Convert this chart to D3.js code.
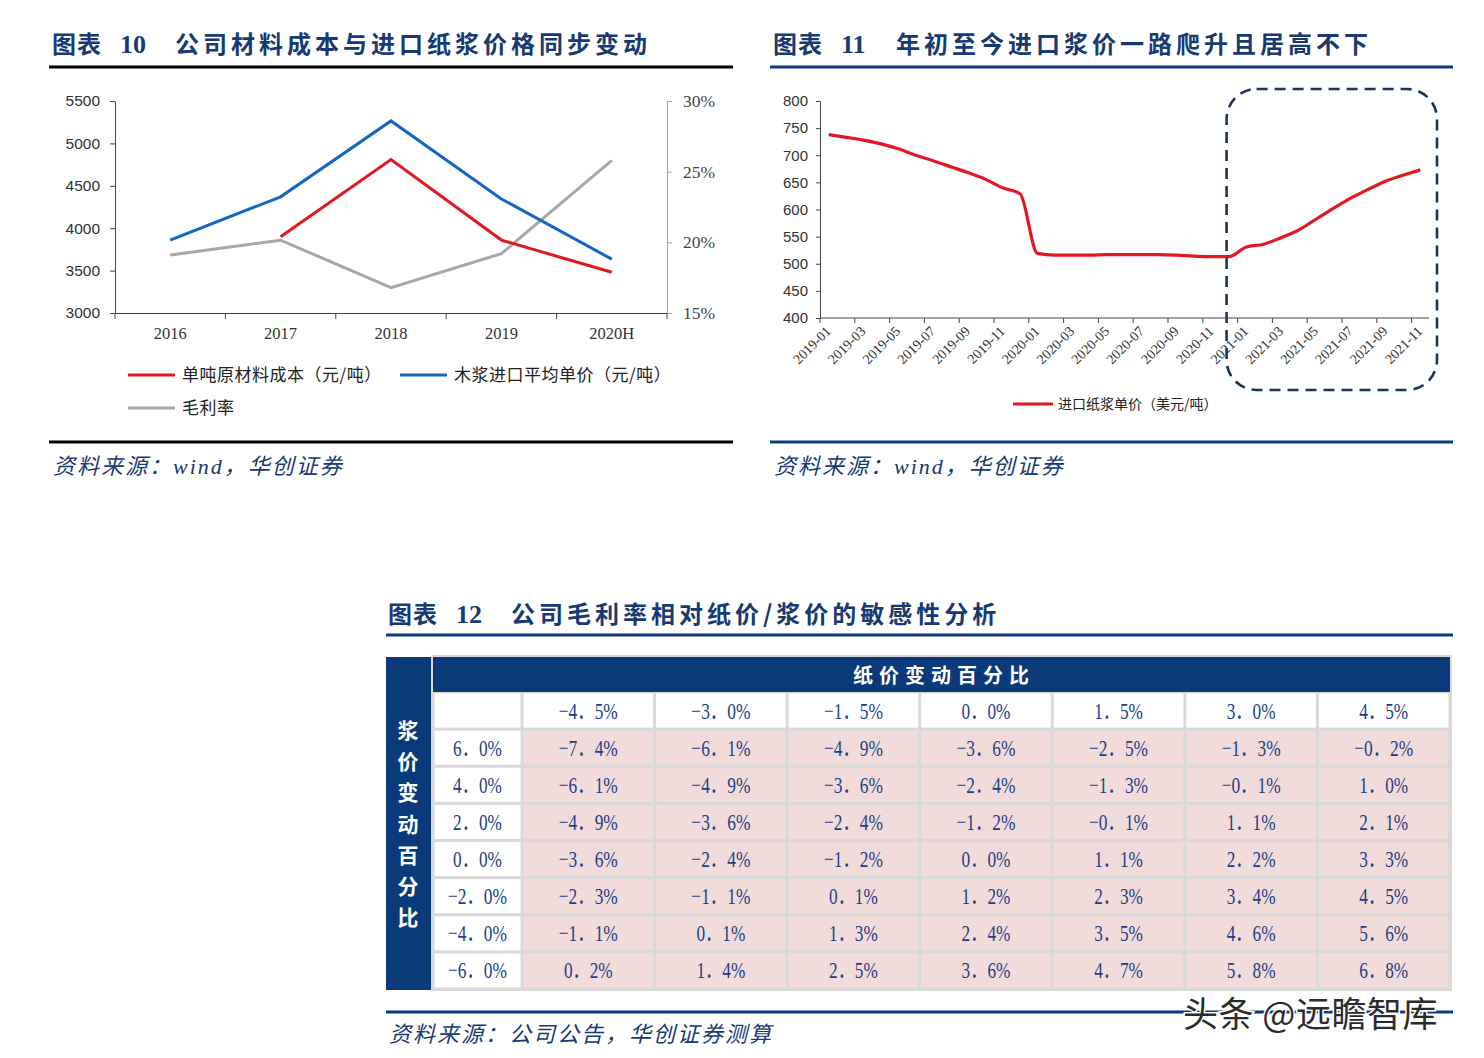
<!DOCTYPE html>
<html>
<head>
<meta charset="utf-8">
<script src="https://cdn.jsdelivr.net/npm/d3@7"></script>
<style>
  body { margin: 0; background: #fff; }
  svg { display: block; }
  .cjk { font-family: "Noto Sans CJK SC", sans-serif; }
  .num { font-family: "Liberation Sans", sans-serif; }
  .narrow { font-family: "Liberation Sans Narrow", "Liberation Sans", sans-serif; }
  .serif { font-family: "Liberation Serif", "Noto Sans CJK SC", serif; }
</style>
</head>
<body>
<div id="page"></div>
<script>
// ---- chart 10 data
const years = ["2016", "2017", "2018", "2019", "2020H"];
const rawCost = [null, 3900, 4810, 3860, 3480];      // 单吨原材料成本
const pulpImport = [3860, 4370, 5265, 4345, 3635];   // 木浆进口平均单价
const grossMargin = [0.191, 0.2015, 0.168, 0.192, 0.258]; // 毛利率

// ---- chart 11 data
const months = [
  "2019-01", "2019-02", "2019-03", "2019-04", "2019-05", "2019-06",
  "2019-07", "2019-08", "2019-09", "2019-10", "2019-11", "2019-12",
  "2020-01", "2020-02", "2020-03", "2020-04", "2020-05", "2020-06",
  "2020-07", "2020-08", "2020-09", "2020-10", "2020-11", "2020-12",
  "2021-01", "2021-02", "2021-03", "2021-04", "2021-05", "2021-06",
  "2021-07", "2021-08", "2021-09", "2021-10", "2021-11"
];
const pulpUsd = [
  738, 733, 728, 721, 712, 700, 690, 679, 668, 656, 640, 629,
  519, 516, 516, 516, 517, 517, 517, 517, 516, 514, 513, 513,
  531, 536, 548, 562, 582, 602, 621, 637, 652, 663, 673
];

// ---- chart 12 data
const paperChg = ["-4.5%", "-3.0%", "-1.5%", "0.0%", "1.5%", "3.0%", "4.5%"];
const pulpChg = ["6.0%", "4.0%", "2.0%", "0.0%", "-2.0%", "-4.0%", "-6.0%"];
const marginGrid = [
  [-7.4, -6.1, -4.9, -3.6, -2.5, -1.3, -0.2],
  [-6.1, -4.9, -3.6, -2.4, -1.3, -0.1, 1.0],
  [-4.9, -3.6, -2.4, -1.2, -0.1, 1.1, 2.1],
  [-3.6, -2.4, -1.2, 0.0, 1.1, 2.2, 3.3],
  [-2.3, -1.1, 0.1, 1.2, 2.3, 3.4, 4.5],
  [-1.1, 0.1, 1.3, 2.4, 3.5, 4.6, 5.6],
  [0.2, 1.4, 2.5, 3.6, 4.7, 5.8, 6.8]
];

const NAVY = "#173a73";
const RULE = "#0b3a7e";
const RED = "#e3171f";
const BLUE = "#1566c0";
const GRAY = "#a8a8a8";

const svg = d3.select("#page").append("svg")
  .attr("width", 1484).attr("height", 1058);

// full-width look for numbers: "−4．5%"
function fmtPct(s) {
  return s.replace("-", "−").replace(".", "．");
}
// half-width digits + one full-width dot, like the original song-style font
function pctWidth(s) {
  return s.length * 10.2 + 8;
}

function header(x, y, no, title, spacing, lineX1, lineX2, lineY, lineColor) {
  svg.append("text").attr("class", "cjk").attr("x", x).attr("y", y)
    .attr("font-size", 24).attr("font-weight", "bold").attr("fill", NAVY)
    .attr("letter-spacing", 1).text("图表");
  svg.append("text").attr("class", "serif").attr("x", x + 68).attr("y", y)
    .attr("font-size", 26).attr("font-weight", "bold").attr("fill", NAVY)
    .text(no);
  svg.append("text").attr("class", "cjk").attr("x", x + 123).attr("y", y)
    .attr("font-size", 24).attr("font-weight", "bold").attr("fill", NAVY)
    .attr("letter-spacing", spacing).text(title);
  svg.append("line").attr("x1", lineX1).attr("x2", lineX2)
    .attr("y1", lineY).attr("y2", lineY)
    .attr("stroke", lineColor).attr("stroke-width", 3);
}

function source(x, y, txt) {
  svg.append("text").attr("class", "serif").attr("x", x).attr("y", y)
    .attr("font-size", 22).attr("font-style", "italic").attr("fill", NAVY)
    .attr("letter-spacing", 2).text(txt);
}

// =========================================================
// 图表 10
header(52, 53, "10", "公司材料成本与进口纸浆价格同步变动", 4, 49, 733, 67, "#000");

const x1 = d3.scaleBand().domain(years).range([115, 667]);
const y1 = d3.scaleLinear().domain([3000, 5500]).range([313, 101]);
const y1r = d3.scaleLinear().domain([0.15, 0.30]).range([313, 101]);

const g1 = svg.append("g");

// left axis
const axL = g1.append("g").attr("transform", "translate(115,0)")
  .call(d3.axisLeft(y1).tickValues(d3.range(3000, 5501, 500)).tickFormat(d3.format("d"))
    .tickSize(5).tickPadding(10).tickSizeOuter(0));
axL.select(".domain").attr("stroke", "#444");
axL.selectAll(".tick line").attr("stroke", "#444");
axL.selectAll("text").attr("class", "num").attr("font-size", 15.5).attr("fill", "#333");

// right axis
const axR = g1.append("g").attr("transform", "translate(667,0)")
  .call(d3.axisRight(y1r).tickValues([0.15, 0.20, 0.25, 0.30]).tickFormat(d3.format(".0%"))
    .tickSize(5).tickPadding(11).tickSizeOuter(0));
axR.select(".domain").attr("stroke", GRAY);
axR.selectAll(".tick line").attr("stroke", GRAY);
axR.selectAll("text").attr("class", "serif").attr("font-size", 17.5).attr("fill", "#444");

// bottom axis
const axB = g1.append("g").attr("transform", "translate(0,313)")
  .call(d3.axisBottom(x1).tickSize(0).tickPadding(14).tickSizeOuter(0));
axB.select(".domain").attr("stroke", "#444");
axB.selectAll("text").attr("class", "serif").attr("font-size", 16.5).attr("fill", "#333");
g1.selectAll(".xb").data(years.concat(["end"])).enter().append("line")
  .attr("x1", (d, i) => 115 + i * x1.step()).attr("x2", (d, i) => 115 + i * x1.step())
  .attr("y1", 313).attr("y2", 319).attr("stroke", "#444");

const cx1 = d => x1(d) + x1.bandwidth() / 2;
const lineL = d3.line().defined(d => d[1] != null)
  .x(d => cx1(d[0])).y(d => y1(d[1]));

g1.append("path").datum(years.map((d, i) => [d, grossMargin[i]]))
  .attr("fill", "none").attr("stroke", GRAY).attr("stroke-width", 3)
  .attr("d", d3.line().x(d => cx1(d[0])).y(d => y1r(d[1])));
g1.append("path").datum(years.map((d, i) => [d, pulpImport[i]]))
  .attr("fill", "none").attr("stroke", BLUE).attr("stroke-width", 3).attr("d", lineL);
g1.append("path").datum(years.map((d, i) => [d, rawCost[i]]))
  .attr("fill", "none").attr("stroke", RED).attr("stroke-width", 3).attr("d", lineL);

// legend
const leg1 = [
  { name: "单吨原材料成本（元/吨）", color: RED, x: 128, y: 375 },
  { name: "木浆进口平均单价（元/吨）", color: BLUE, x: 400, y: 375 },
  { name: "毛利率", color: GRAY, x: 128, y: 408 }
];
leg1.forEach(function (d) {
  svg.append("line").attr("x1", d.x).attr("x2", d.x + 47).attr("y1", d.y).attr("y2", d.y)
    .attr("stroke", d.color).attr("stroke-width", 3);
  svg.append("text").attr("class", "cjk").attr("x", d.x + 54).attr("y", d.y + 6)
    .attr("font-size", 17).attr("fill", "#222").attr("letter-spacing", 0.5).text(d.name);
});

svg.append("line").attr("x1", 49).attr("x2", 733).attr("y1", 442).attr("y2", 442)
  .attr("stroke", "#000").attr("stroke-width", 3);
source(53, 474, "资料来源：wind，华创证券");

// =========================================================
// 图表 11
header(773, 53, "11", "年初至今进口浆价一路爬升且居高不下", 4, 770, 1453, 67, RULE);

const x2 = d3.scaleBand().domain(months).range([820, 1429]);
const y2 = d3.scaleLinear().domain([400, 800]).range([318, 101]);
const g2 = svg.append("g");

const ay2 = g2.append("g").attr("transform", "translate(820,0)")
  .call(d3.axisLeft(y2).tickValues(d3.range(400, 801, 50)).tickSize(4).tickPadding(8).tickSizeOuter(0));
ay2.select(".domain").attr("stroke", "#444");
ay2.selectAll(".tick line").attr("stroke", "#444");
ay2.selectAll("text").attr("class", "narrow").attr("font-size", 15).attr("fill", "#333");

g2.append("line").attr("x1", 820).attr("x2", 1429).attr("y1", 318).attr("y2", 318)
  .attr("stroke", "#444");
const tickIdx = d3.range(0, months.length + 1, 2);
g2.selectAll(".xt").data(tickIdx).enter().append("line")
  .attr("x1", d => 820 + d * x2.step()).attr("x2", d => 820 + d * x2.step())
  .attr("y1", 318).attr("y2", 323).attr("stroke", "#444");
g2.selectAll(".xl").data(months.filter((d, i) => i % 2 === 0)).enter().append("text")
  .attr("class", "serif").attr("font-size", 14).attr("fill", "#333")
  .attr("text-anchor", "end")
  .attr("transform", d => `translate(${x2(d) + x2.bandwidth() / 2 + 3},${332}) rotate(-45)`)
  .text(d => d);

g2.append("path").datum(months.map((d, i) => [d, pulpUsd[i]]))
  .attr("fill", "none").attr("stroke", RED).attr("stroke-width", 3.2)
  .attr("d", d3.line().x(d => x2(d[0]) + x2.bandwidth() / 2).y(d => y2(d[1])).curve(d3.curveMonotoneX));

// highlight box around 2021
const bx0 = x2("2021-01") - 11;
g2.append("rect").attr("x", bx0).attr("y", y2(800) - 12)
  .attr("width", 1437 - bx0).attr("height", 390 - (y2(800) - 12))
  .attr("rx", 30).attr("ry", 30)
  .attr("fill", "none").attr("stroke", "#1c3557").attr("stroke-width", 2.6)
  .attr("stroke-dasharray", "11 7");

svg.append("line").attr("x1", 1013).attr("x2", 1053).attr("y1", 404).attr("y2", 404)
  .attr("stroke", RED).attr("stroke-width", 3);
svg.append("text").attr("class", "cjk").attr("x", 1058).attr("y", 409)
  .attr("font-size", 14).attr("fill", "#222").text("进口纸浆单价（美元/吨）");

svg.append("line").attr("x1", 770).attr("x2", 1453).attr("y1", 442).attr("y2", 442)
  .attr("stroke", RULE).attr("stroke-width", 3);
source(774, 474, "资料来源：wind，华创证券");

// =========================================================
// 图表 12
header(388, 623, "12", "公司毛利率相对纸价/浆价的敏感性分析", 4, 386, 1453, 635, RULE);

const tx = d3.scaleBand().domain(paperChg).range([522, 1450]);
const rowKeys = ["head"].concat(pulpChg);
const ty = d3.scaleBand().domain(rowKeys).range([692, 989]);
const T_NAVY = "#0a3a7a";
const T_TEXT = "#1c3f88";

const g3 = svg.append("g");
g3.append("rect").attr("x", 431).attr("y", 655).attr("width", 1021).attr("height", 336)
  .attr("fill", "#d9d9d9");
g3.append("rect").attr("x", 386).attr("y", 657).attr("width", 45).attr("height", 333)
  .attr("fill", T_NAVY);
g3.append("rect").attr("x", 433).attr("y", 657).attr("width", 1017).attr("height", 35)
  .attr("fill", T_NAVY);
g3.append("text").attr("class", "cjk").attr("x", 944).attr("y", 683)
  .attr("text-anchor", "middle").attr("font-size", 20).attr("font-weight", "bold")
  .attr("letter-spacing", 6).attr("fill", "#fff").text("纸价变动百分比");
g3.selectAll(".vt").data("浆价变动百分比".split("")).enter().append("text")
  .attr("class", "cjk").attr("x", 408).attr("y", (d, i) => 738 + i * 31.2)
  .attr("text-anchor", "middle").attr("font-size", 21).attr("font-weight", "bold")
  .attr("fill", "#fff").text(d => d);

const cells = [];
rowKeys.forEach(function (r, ri) {
  cells.push({ x: 433, w: 89, r: r, fill: "#fff", txt: ri === 0 ? "" : r });
  paperChg.forEach(function (c, ci) {
    cells.push({
      x: tx(c), w: tx.bandwidth(), r: r,
      fill: ri === 0 ? "#fff" : "#f2dcdb",
      txt: ri === 0 ? c : marginGrid[ri - 1][ci].toFixed(1) + "%"
    });
  });
});
g3.selectAll(".cell").data(cells).enter().append("rect")
  .attr("x", d => d.x + 1.5).attr("y", d => ty(d.r) + 1.5)
  .attr("width", d => d.w - 3).attr("height", ty.bandwidth() - 3)
  .attr("fill", d => d.fill);
g3.selectAll(".ctxt").data(cells.filter(d => d.txt !== "")).enter().append("text")
  .attr("class", "serif").attr("x", d => d.x + d.w / 2).attr("y", d => ty(d.r) + ty.bandwidth() / 2 + 8)
  .attr("text-anchor", "middle").attr("font-size", 24).attr("fill", T_TEXT)
  .attr("textLength", d => pctWidth(d.txt)).attr("lengthAdjust", "spacingAndGlyphs")
  .text(d => fmtPct(d.txt));

svg.append("line").attr("x1", 386).attr("x2", 1453).attr("y1", 1012).attr("y2", 1012)
  .attr("stroke", RULE).attr("stroke-width", 3);
source(389, 1042, "资料来源：公司公告，华创证券测算");

// watermark
svg.append("text").attr("class", "cjk").attr("x", 1183).attr("y", 1027)
  .attr("font-size", 35).attr("fill", "#2b2b2b").attr("letter-spacing", 0.5)
  .attr("stroke", "#fff").attr("stroke-width", 3).attr("paint-order", "stroke")
  .text("头条 @远瞻智库");
</script>
</body>
</html>
